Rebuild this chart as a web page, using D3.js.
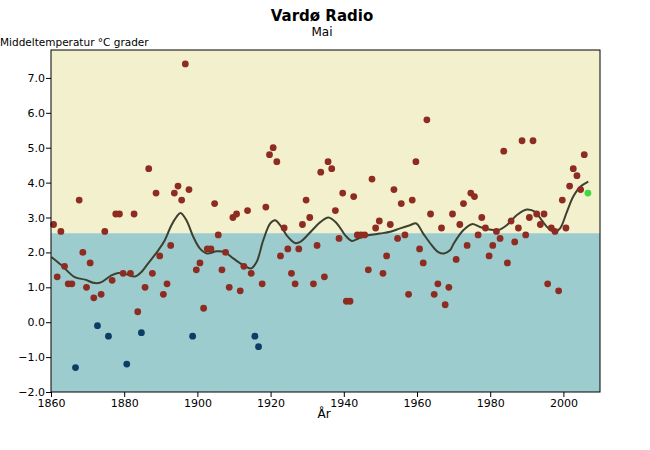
<!DOCTYPE html>
<html><head><meta charset="utf-8">
<script src="https://cdn.jsdelivr.net/npm/d3@7"></script>
<style>body{margin:0;background:#fff}svg{display:block}text{font-family:"DejaVu Sans",sans-serif}</style>
</head><body><svg id="c" width="650" height="450"></svg>
<script>
const title = "Vardø Radio";
const subtitle = "Mai";
const yLabel = "Middeltemperatur °C grader";
const xLabel = "År";
const firstYear = 1860;
const temps = [2.8,1.3,2.6,1.6,1.1,1.1,-1.3,3.5,2.0,1.0, 1.7,0.7,-0.1,0.8,2.6,-0.4,1.2,3.1,3.1,1.4,
 -1.2,1.4,3.1,0.3,-0.3,1.0,4.4,1.4,3.7,1.9, 0.8,1.1,2.2,3.7,3.9,3.5,7.4,3.8,-0.4,1.5,
 1.7,0.4,2.1,2.1,3.4,2.5,1.5,2.0,1.0,3.0, 3.1,0.9,1.6,3.2,1.4,-0.4,-0.7,1.1,3.3,4.8,
 5.0,4.6,1.9,2.7,2.1,1.4,1.1,2.1,2.8,3.5, 3.0,1.1,2.2,4.3,1.3,4.6,4.4,3.2,2.4,3.7,
 0.6,0.6,3.6,2.5,2.5,2.5,1.5,4.1,2.7,2.9, 1.4,1.9,2.8,3.8,2.4,3.4,2.5,0.8,3.5,4.6,
 2.1,1.7,5.8,3.1,0.8,1.1,2.7,0.5,1.0,3.1, 1.8,2.8,3.4,2.2,3.7,3.6,2.5,3.0,2.7,1.9,
 2.2,2.6,2.4,4.9,1.7,2.9,2.3,2.7,5.2,2.5, 3.0,5.2,3.1,2.8,3.1,1.1,2.7,2.6,0.9,3.5,
 2.7,3.9,4.4,4.2,3.8,4.8,3.7];
const years = temps.map((d,i)=>firstYear+i);
const normal = 2.55;
const curveYears = [1860.1,1862.9,1866.5,1869.3,1872.0,1873.8,1876.5,1878.4,1880.6,1882.9,1884.7,1886.5,1889.3,1891.1,1892.9,1894.3,1895.4,1897.0,1898.9,1900.7,1902.6,1905.3,1907.6,1909.9,1912.6,1914.7,1916.2,1918.0,1919.9,1921.2,1922.6,1924.4,1926.7,1928.1,1930.5,1932.2,1933.5,1935.8,1938.1,1940.4,1942.2,1944.0,1946.7,1949.9,1952.7,1955.4,1958.1,1959.8,1961.7,1964.0,1965.8,1967.4,1969.0,1970.0,1972.7,1975.0,1977.2,1979.5,1982.2,1984.5,1987.3,1990.0,1992.3,1994.1,1995.9,1997.7,1999.1,2000.9,2002.7,2004.6,2006.8];
const curveTemps = [1.87,1.63,1.29,1.22,1.12,1.15,1.34,1.41,1.37,1.31,1.44,1.68,2.06,2.35,2.78,3.02,3.13,2.92,2.44,2.11,1.97,2.03,2.0,1.82,1.63,1.54,1.73,2.35,2.83,2.92,2.78,2.49,2.27,2.30,2.54,2.73,2.86,3.0,2.83,2.49,2.33,2.40,2.49,2.54,2.59,2.69,2.78,2.83,2.54,2.21,2.01,1.97,2.06,2.25,2.64,2.81,2.73,2.66,2.64,2.78,3.07,3.23,3.16,2.92,2.69,2.59,2.69,3.15,3.6,3.88,4.03];
const xTicks = [1860,1880,1900,1920,1940,1960,1980,2000];
const yTicks = [-2,-1,0,1,2,3,4,5,6,7];

const svg = d3.select("#c");
const L=51, R=600, T=50, B=392;
const x = d3.scaleLinear().domain([1860,2010]).range([L,R]);
const y = d3.scaleLinear().domain([-2,7.8]).range([B,T]);

svg.append("rect").attr("x",L).attr("y",T).attr("width",R-L).attr("height",y(normal)-T).attr("fill","#f2f0cd");
svg.append("rect").attr("x",L).attr("y",y(normal)).attr("width",R-L).attr("height",B-y(normal)).attr("fill","#9dcccf");

const line = d3.line().x(d=>x(d[0])).y(d=>y(d[1])).curve(d3.curveCatmullRom);
svg.append("path").datum(curveYears.map((d,i)=>[d,curveTemps[i]]))
  .attr("d",line).attr("fill","none").attr("stroke","#3d4030").attr("stroke-width",2);

svg.append("g").selectAll("circle").data(temps).join("circle")
  .attr("cx",(d,i)=>x(years[i]+0.7)).attr("cy",d=>y(d)).attr("r",3.4)
  .attr("fill",(d,i)=> i===temps.length-1 ? "#3fd93f" : (d<0 ? "#0c3d66" : "#8e2c22"));

svg.append("rect").attr("x",L).attr("y",T).attr("width",R-L).attr("height",B-T).attr("fill","none").attr("stroke","#000");

const ax = svg.append("g").attr("transform",`translate(0,${B})`)
  .call(d3.axisBottom(x).tickValues(xTicks).tickFormat(d3.format("d")).tickSize(5).tickPadding(2));
const ay = svg.append("g").attr("transform",`translate(${L},0)`)
  .call(d3.axisLeft(y).tickValues(yTicks).tickFormat(d3.format(".1f")).tickSize(5).tickPadding(1));
[ax,ay].forEach(g=>{g.select(".domain").remove();g.selectAll("text").attr("font-size",11).attr("fill","#000").style("font-family","DejaVu Sans");g.selectAll("line").attr("stroke","#000");});

svg.append("text").attr("x",322).attr("y",21).attr("text-anchor","middle").attr("font-size",15).attr("font-weight","bold").text(title);
svg.append("text").attr("x",322).attr("y",36).attr("text-anchor","middle").attr("font-size",12).text(subtitle);
svg.append("text").attr("x",0).attr("y",46).attr("font-size",10.5).text(yLabel);
svg.append("text").attr("x",324).attr("y",418).attr("text-anchor","middle").attr("font-size",12).text(xLabel);
</script></body></html>
